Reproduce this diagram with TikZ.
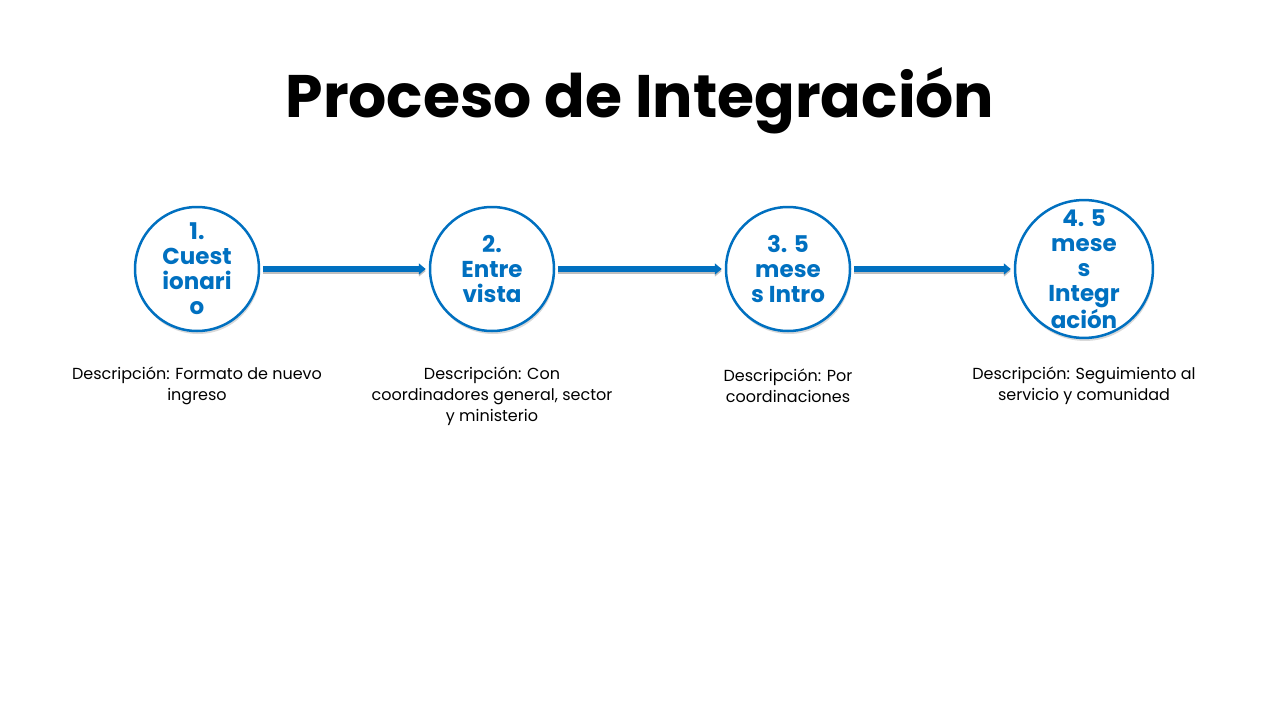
\documentclass[tikz,border=0pt]{standalone}
\usepackage{fontspec}
\setmainfont{Poppins}
\usetikzlibrary{arrows.meta,shadows}
\definecolor{azul}{HTML}{0070C0}
\begin{document}
\begin{tikzpicture}[x=1pt,y=-1pt,
  paso/.style={circle,draw=azul,line width=2.5pt,fill=white,minimum size=124pt,inner sep=0pt,
    drop shadow={opacity=0.3,shadow xshift=1pt,shadow yshift=-3pt},
    font=\fontsize{23}{25}\selectfont\bfseries,text=azul,align=center},
  desc/.style={font=\fontsize{16}{21}\selectfont,align=center,text=black},
  conn/.style={draw=azul,line width=6pt,-{Triangle[length=7pt,width=11pt]},
    preaction={draw=black!25,line width=6pt,transform canvas={yshift=-2pt}}}]
\useasboundingbox (0,0) rectangle (1280,720);
\node[font=\fontsize{60}{66}\selectfont\bfseries] (title) at (640,101) {Proceso de Integración};
\node[paso] (c1) at (197,269) {1.\\Cuest\\ionari\\o};
\node[paso] (c2) at (492,269) {2.\\Entre\\vista};
\node[paso] (c3) at (788,269) {3. 5\\mese\\s Intro};
\node[paso] (c4) at (1084,269) {4. 5\\mese\\s\\Integr\\ación};
\draw[conn] ([xshift=3pt]c1.east) -- ([xshift=-3pt]c2.west);
\draw[conn] ([xshift=3pt]c2.east) -- ([xshift=-3pt]c3.west);
\draw[conn] ([xshift=3pt]c3.east) -- ([xshift=-3pt]c4.west);
\node[desc] (d1) at (197,386) {Descripción: Formato de nuevo\\ingreso};
\node[desc] (d2) at (492,396) {Descripción: Con\\coordinadores general, sector\\y ministerio};
\node[desc] (d3) at (788,386) {Descripción: Por\\coordinaciones};
\node[desc] (d4) at (1084,386) {Descripción: Seguimiento al\\servicio y comunidad};
\end{tikzpicture}
\end{document}
